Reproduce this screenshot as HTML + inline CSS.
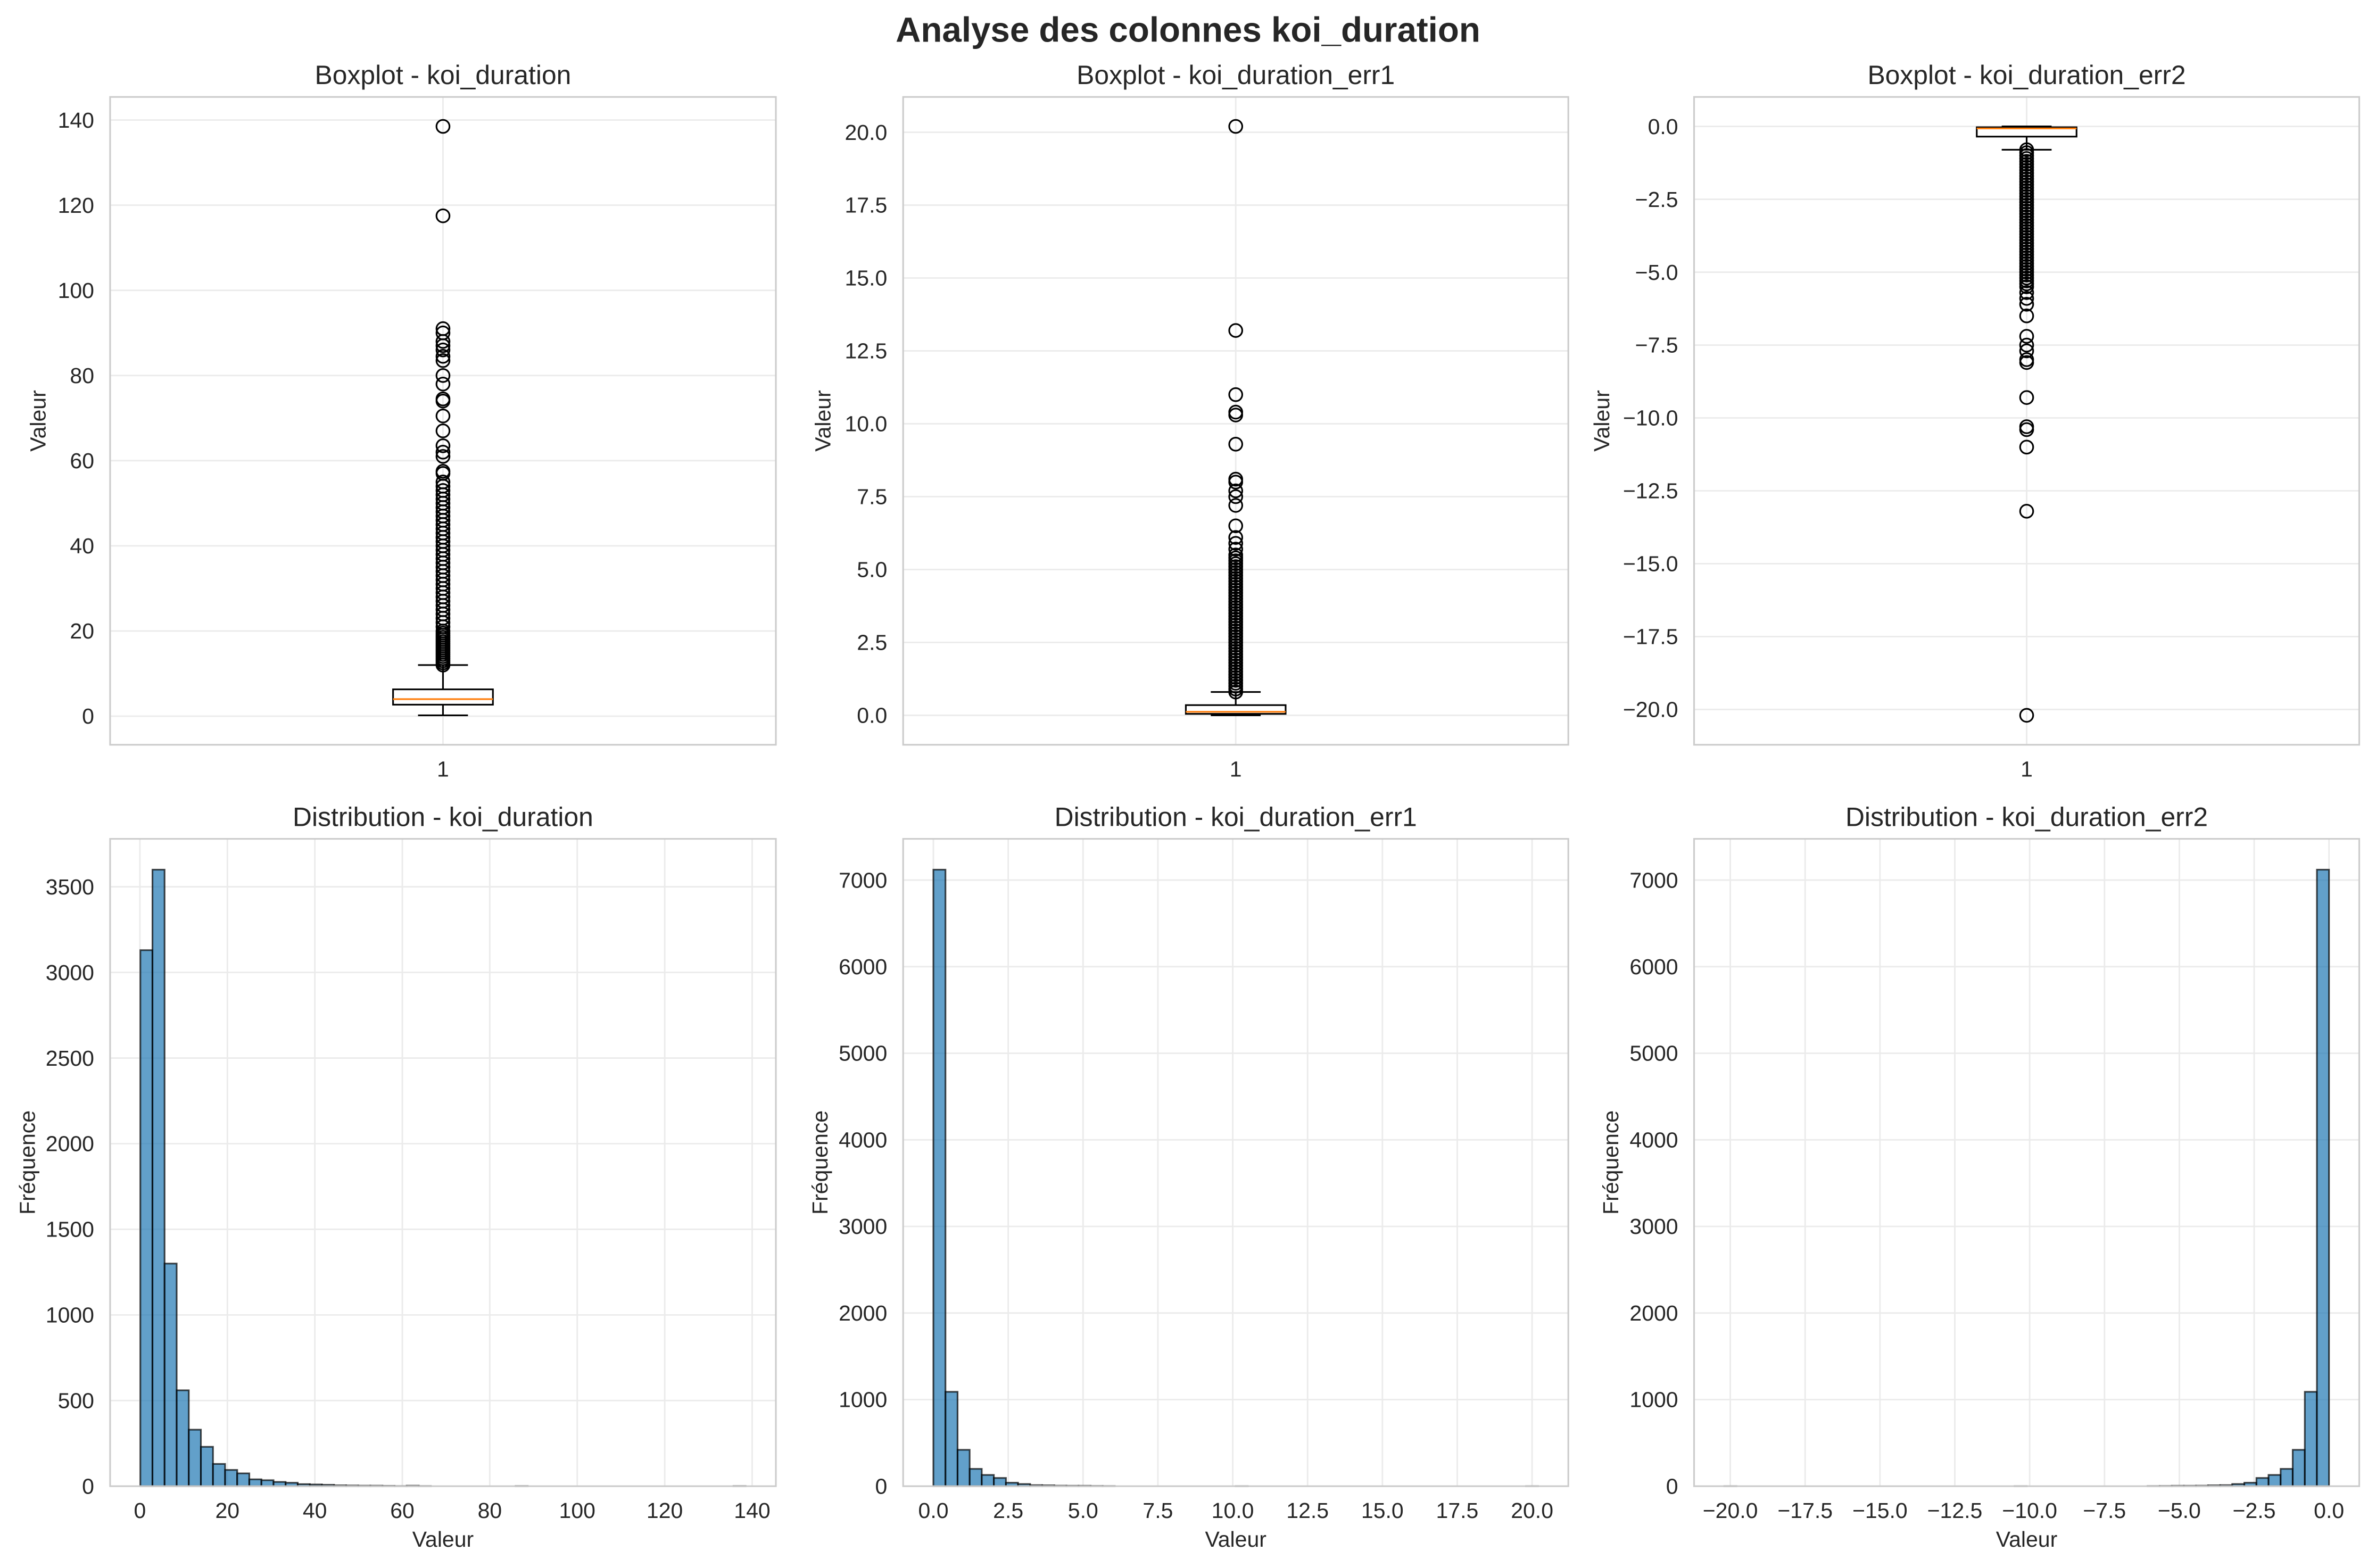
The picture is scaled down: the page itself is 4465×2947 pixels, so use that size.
<!DOCTYPE html>
<html><head><meta charset="utf-8"><style>
html,body{margin:0;padding:0;background:#fff;}
svg{display:block;font-family:"Liberation Sans",Arial,sans-serif;}
</style></head><body>
<svg id="fig" xmlns="http://www.w3.org/2000/svg" width="4465" height="2947" viewBox="0 0 1568 1035">
<rect x="0" y="0" width="1568" height="1035" fill="#fff"/>
<text x="784" y="27.5" text-anchor="middle" font-size="23" font-weight="bold" fill="#262626">Analyse des colonnes koi_duration</text>
</svg>
<script>
// ---------- data ----------
const box1Stats = [0.2, 2.7, 4.0, 6.3, 12.0]; // whislo, q1, med, q3, whishi
const box1Fliers = [12,12.5,13,13.5,14,14.5,15,15.5,16,16.5,17,17.5,18,18.5,19,19.5,20,21,22,23,24,25,26,27,28,29,30,31,32,33,34,35,36,37,38,39,40,41,42,43,44,45,46,47,48,49,50,51,52,53,54,55,57,57.5,61,62,63.5,67,70.5,74,74.5,78,80,83.5,84.5,86,87,88,90,91,117.5,138.5];
const box1Ticks = [0,20,40,60,80,100,120,140];
const box2Stats = [0.0, 0.05, 0.12, 0.35, 0.8];
const box2Fliers = [0.8,0.9,1.0,1.1,1.2,1.3,1.4,1.5,1.6,1.7,1.8,1.9,2.0,2.1,2.2,2.3,2.4,2.5,2.6,2.7,2.8,2.9,3.0,3.1,3.2,3.3,3.4,3.5,3.6,3.7,3.8,3.9,4.0,4.1,4.2,4.3,4.4,4.5,4.6,4.7,4.8,4.9,5.0,5.1,5.2,5.3,5.4,5.5,5.7,5.9,6.1,6.5,7.2,7.5,7.7,8.0,8.1,9.3,10.3,10.4,11.0,13.2,20.2];
const box2Ticks = ["0.0","2.5","5.0","7.5","10.0","12.5","15.0","17.5","20.0"];
const box3Stats = [-0.8, -0.35, -0.07, -0.03, 0.0];
const box3Fliers = [-0.8,-0.9,-1.0,-1.1,-1.2,-1.3,-1.4,-1.5,-1.6,-1.7,-1.8,-1.9,-2.0,-2.1,-2.2,-2.3,-2.4,-2.5,-2.6,-2.7,-2.8,-2.9,-3.0,-3.1,-3.2,-3.3,-3.4,-3.5,-3.6,-3.7,-3.8,-3.9,-4.0,-4.1,-4.2,-4.3,-4.4,-4.5,-4.6,-4.7,-4.8,-4.9,-5.0,-5.1,-5.2,-5.3,-5.4,-5.5,-5.7,-5.9,-6.1,-6.5,-7.2,-7.5,-7.7,-8.0,-8.1,-9.3,-10.3,-10.4,-11.0,-13.2,-20.2];
const box3Ticks = ["0.0","−2.5","−5.0","−7.5","−10.0","−12.5","−15.0","−17.5","−20.0"];

const hist1Range = [0.1, 138.5];
const hist1Counts = [3130,3600,1300,560,330,230,130,95,75,40,35,25,20,12,10,8,5,4,3,3,2,1,3,1,0,0,0,0,0,0,0,1,0,0,0,0,0,0,0,0,0,0,0,0,0,0,0,0,0,1];
const hist1XTicks = [0,20,40,60,80,100,120,140];
const hist1YTicks = [0,500,1000,1500,2000,2500,3000,3500];
const hist2Range = [0.0, 20.2];
const hist2Counts = [7120,1090,420,200,130,95,40,25,12,10,6,5,5,3,2,0,0,0,0,0,0,0,0,0,0,1,0,0,0,0,0,0,0,0,0,0,0,0,0,0,0,0,0,0,0,0,0,0,0,1];
const hist2XTicks = ["0.0","2.5","5.0","7.5","10.0","12.5","15.0","17.5","20.0"];
const hist2YTicks = [0,1000,2000,3000,4000,5000,6000,7000];
const hist3Range = [-20.2, 0.0];
const hist3Counts = [1,0,0,0,0,0,0,0,0,0,0,0,0,0,0,0,0,0,0,0,0,0,0,0,1,0,0,0,0,0,0,0,0,0,0,2,3,5,5,6,10,12,25,40,95,130,200,420,1090,7120];
const hist3XTicks = ["−20.0","−17.5","−15.0","−12.5","−10.0","−7.5","−5.0","−2.5","0.0"];
const hist3YTicks = [0,1000,2000,3000,4000,5000,6000,7000];

// ---------- helpers ----------
const svg = document.getElementById('fig');
const NS = 'http://www.w3.org/2000/svg';
const FS = 14.4;
function mk(tag, attrs, parent){
  const e = document.createElementNS(NS, tag);
  for (const k in attrs) e.setAttribute(k, attrs[k]);
  (parent||svg).appendChild(e);
  return e;
}
function num(s){ return typeof s === 'number' ? s : parseFloat(String(s).replace('−','-')); }
function lin(d0,d1,r0,r1){ return v => r0 + (v-d0)*(r1-r0)/(d1-d0); }
function padRange(a,b){ const m=(b-a)*0.05; return [a-m,b+m]; }

function frame(g, L,T,R,B){
  const f = mk('rect',{x:L,y:T,width:R-L,height:B-T,fill:'none',stroke:'#cccccc','stroke-width':1.1},g);
  
  
}
function title(g, x, y, txt){
  const t = mk('text',{x:x,y:y,'text-anchor':'middle','font-size':17.5,fill:'#262626'},g);
  t.textContent = txt;
  
  
}
function ylabel(g, x, y, txt){
  const t = mk('text',{x:x,y:y,'text-anchor':'middle','font-size':FS,fill:'#262626',transform:`rotate(-90 ${x} ${y})`},g);
  t.textContent = txt;
  
  
}
function xlabel(g, x, y, txt){
  const t = mk('text',{x:x,y:y,'text-anchor':'middle','font-size':FS,fill:'#262626'},g);
  t.textContent = txt;
  
  
}
function yTicks(g, ticks, ys, L, R){
  ticks.forEach(tk=>{
    const y = ys(num(tk));
    const gl = mk('line',{x1:L,x2:R,y1:y,y2:y,stroke:'#ebebeb','stroke-width':1},g);
    
    
    const t = mk('text',{x:L-10.5,y:y+5,'text-anchor':'end','font-size':FS,fill:'#262626'},g);
    t.textContent = tk;
    
    
  });
}
function xTicks(g, ticks, xs, T, B){
  ticks.forEach(tk=>{
    const x = xs(num(tk));
    const gl = mk('line',{x1:x,x2:x,y1:T,y2:B,stroke:'#ebebeb','stroke-width':1},g);
    
    
    const t = mk('text',{x:x,y:B+21,'text-anchor':'middle','font-size':FS,fill:'#262626'},g);
    t.textContent = tk;
    
    
  });
}

function boxPanel(name, ttl, L, R, ticks, stats, fliers, ylx){
  const T=64, B=491.6;
  const g = mk('g',{});
  
  
  const all = fliers.concat(stats);
  const [ymin,ymax] = padRange(Math.min(...all), Math.max(...all));
  const ys = lin(ymin, ymax, B, T);
  const xs = lin(0.5, 1.5, L, R);
  yTicks(g, ticks, ys, L, R);
  xTicks(g, [1], xs, T, B);
  const cx = xs(1);
  const half = (R-L)*0.075;
  const capHalf = (R-L)*0.0375;
  const [lo,q1,med,q3,hi] = stats;
  const w1 = mk('line',{x1:cx,x2:cx,y1:ys(q1),y2:ys(lo),stroke:'#000','stroke-width':1.1},g);
  
  
  const w2 = mk('line',{x1:cx,x2:cx,y1:ys(q3),y2:ys(hi),stroke:'#000','stroke-width':1.1},g);
  
  
  const c1 = mk('line',{x1:cx-capHalf,x2:cx+capHalf,y1:ys(lo),y2:ys(lo),stroke:'#000','stroke-width':1.1},g);
  
  
  const c2 = mk('line',{x1:cx-capHalf,x2:cx+capHalf,y1:ys(hi),y2:ys(hi),stroke:'#000','stroke-width':1.1},g);
  
  
  const bx = mk('rect',{x:cx-half, y:ys(q3), width:2*half, height:ys(q1)-ys(q3), fill:'#fff', stroke:'#000','stroke-width':1.1},g);
  
  
  const md = mk('line',{x1:cx-half,x2:cx+half,y1:ys(med),y2:ys(med),stroke:'#ff7f0e','stroke-width':1.1},g);
  
  
  fliers.forEach(v=>{
    const c = mk('circle',{cx:cx,cy:ys(v),r:4.3,fill:'none',stroke:'#000','stroke-width':1.1},g);
    
    
  });
  frame(g,L,T,R,B);
  title(g,(L+R)/2,T-8.5,ttl);
  ylabel(g, ylx, (T+B)/2, 'Valeur');
}

function histPanel(name, ttl, L, R, range, counts, xt, yt, ylx){
  const T=553.7, B=981;
  const g = mk('g',{});
  
  
  const [xmin,xmax] = padRange(range[0], range[1]);
  const ymax = Math.max(...counts)*1.05;
  const xs = lin(xmin, xmax, L, R);
  const ys = lin(0, ymax, B, T);
  yTicks(g, yt, ys, L, R);
  xTicks(g, xt, xs, T, B);
  const bwid = (range[1]-range[0])/counts.length;
  counts.forEach((c,i)=>{
    const x0 = xs(range[0]+i*bwid), x1 = xs(range[0]+(i+1)*bwid);
    const r = mk('rect',{x:x0,y:ys(c),width:x1-x0,height:ys(0)-ys(c),fill:'rgba(31,119,180,0.7)',stroke:'rgba(0,0,0,0.7)','stroke-width':1.1},g);
    
    
  });
  frame(g,L,T,R,B);
  title(g,(L+R)/2,T-8.5,ttl);
  ylabel(g, ylx, (T+B)/2, 'Fréquence');
  xlabel(g,(L+R)/2, B+40, 'Valeur');
}

boxPanel('boxplot-koi-duration','Boxplot - koi_duration', 72.6, 512, box1Ticks, box1Stats, box1Fliers, 30);
boxPanel('boxplot-koi-duration-err1','Boxplot - koi_duration_err1', 596, 1035, box2Ticks, box2Stats, box2Fliers, 548);
boxPanel('boxplot-koi-duration-err2','Boxplot - koi_duration_err2', 1118, 1557, box3Ticks, box3Stats, box3Fliers, 1062);

histPanel('histogram-koi-duration','Distribution - koi_duration', 72.6, 512, hist1Range, hist1Counts, hist1XTicks, hist1YTicks, 23);
histPanel('histogram-koi-duration-err1','Distribution - koi_duration_err1', 596, 1035, hist2Range, hist2Counts, hist2XTicks, hist2YTicks, 546);
histPanel('histogram-koi-duration-err2','Distribution - koi_duration_err2', 1118, 1557, hist3Range, hist3Counts, hist3XTicks, hist3YTicks, 1068);
</script>
</body></html>
